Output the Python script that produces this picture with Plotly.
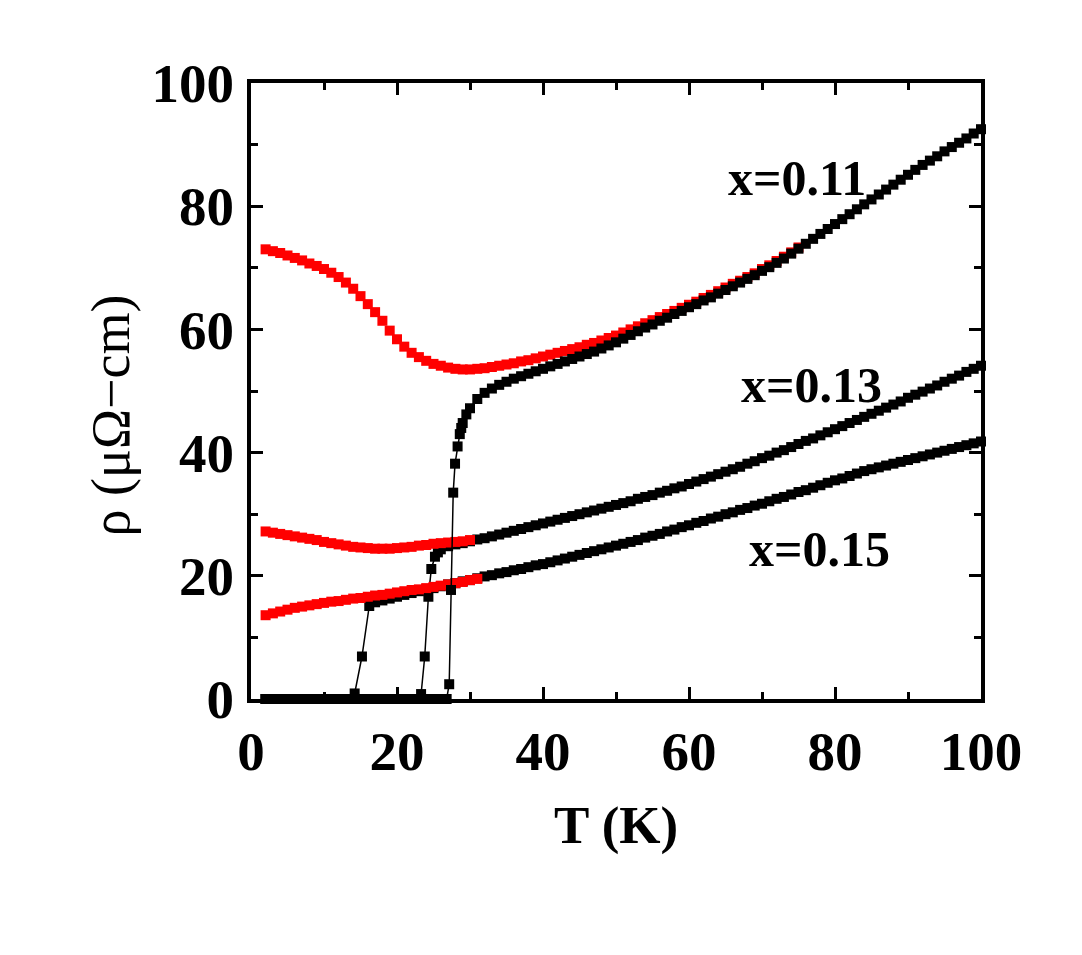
import plotly.graph_objects as go

# ---------------- data ----------------
# x = 0.11, zero field (black)
T_011_black = [2, 3, 4, 5, 6, 7, 8, 9, 10, 11, 12, 13, 14, 15, 16, 17, 18, 19, 20, 21, 22, 23, 24, 25, 26, 26.8,
               27.15, 27.4, 27.7, 27.95, 28.3, 28.6, 28.8, 29, 29.5, 30, 31, 32, 33, 34, 35, 36, 37, 38, 39, 40,
               41, 42, 43, 44, 45, 46, 47, 48, 49, 50, 51, 52, 53, 54, 55, 56, 57, 58, 59, 60,
               61, 62, 63, 64, 65, 66, 67, 68, 69, 70, 71, 72, 73, 74, 75, 76, 77, 78, 79, 80,
               81, 82, 83, 84, 85, 86, 87, 88, 89, 90, 91, 92, 93, 94, 95, 96, 97, 98, 99, 100]
rho_011_black = [0, 0, 0, 0, 0, 0, 0, 0, 0, 0, 0, 0, 0, 0, 0, 0, 0, 0, 0, 0, 0, 0, 0, 0, 0, 0,
                 2.4, 17.7, 33.5, 38.2, 41.0, 43.0, 44.0, 44.8, 46.2, 47.2, 48.7, 49.7, 50.4, 51.0, 51.5, 52.0, 52.4, 52.8, 53.2, 53.6,
                 54.0, 54.4, 54.8, 55.2, 55.6, 56.0, 56.4, 56.9, 57.4, 57.9, 58.5, 59.1, 59.7, 60.3, 60.8, 61.4, 61.9, 62.5, 63.0, 63.6,
                 64.1, 64.7, 65.2, 65.8, 66.4, 67.0, 67.6, 68.2, 68.8, 69.5, 70.1, 70.8, 71.5, 72.3, 73.1, 73.9, 74.7, 75.5, 76.3, 77.1,
                 77.9, 78.7, 79.5, 80.3, 81.1, 81.9, 82.7, 83.5, 84.3, 85.1, 85.9, 86.7, 87.4, 88.1, 88.9, 89.6, 90.3, 91.0, 91.8, 92.5]

# x = 0.11, in field (red)
T_011_red = [2, 3, 4, 5, 6, 7, 8, 9, 10, 11, 12, 13, 14, 15, 16, 17, 18, 19, 20, 21, 22, 23, 24, 25, 26, 27, 28, 29, 30,
             31, 32, 33, 34, 35, 36, 37, 38, 39, 40, 41, 42, 43, 44, 45, 46, 47, 48, 49, 50,
             51, 52, 53, 54, 55, 56, 57, 58, 59, 60, 61, 62, 63, 64, 65, 66, 67, 68, 69, 70, 71, 72, 73, 74, 75]
rho_011_red = [73.0, 72.7, 72.4, 72.0, 71.6, 71.2, 70.7, 70.3, 69.8, 69.2, 68.5, 67.6, 66.6, 65.4, 64.1, 62.8, 61.4, 59.8, 58.4,
               57.2, 56.2, 55.5, 54.9, 54.4, 54.1, 53.8, 53.6, 53.5, 53.5,
               53.6, 53.7, 53.9, 54.1, 54.3, 54.5, 54.8, 55.0, 55.3, 55.6, 55.9, 56.2, 56.5, 56.8, 57.1, 57.5, 57.8, 58.2, 58.6, 59.0,
               59.5, 60.0, 60.5, 61.0, 61.5, 62.0, 62.5, 63.0, 63.5, 64.0, 64.5, 65.1, 65.6, 66.2, 66.8, 67.4, 67.9, 68.5, 69.1, 69.8,
               70.4, 71.1, 71.8, 72.5, 73.3]

# x = 0.13, zero field (black)
T_013_black = [2, 3, 4, 5, 6, 7, 8, 9, 10, 11, 12, 13, 14, 15, 16, 17, 18, 19, 20, 21, 22, 23,
               23.3, 23.8, 24.3, 24.7, 25.2, 25.6, 26, 27, 28, 29, 30, 31, 32, 33, 34, 35, 36, 37, 38, 39, 40,
               41, 42, 43, 44, 45, 46, 47, 48, 49, 50, 51, 52, 53, 54, 55, 56, 57, 58, 59, 60,
               61, 62, 63, 64, 65, 66, 67, 68, 69, 70, 71, 72, 73, 74, 75, 76, 77, 78, 79, 80,
               81, 82, 83, 84, 85, 86, 87, 88, 89, 90, 91, 92, 93, 94, 95, 96, 97, 98, 99, 100]
rho_013_black = [0, 0, 0, 0, 0, 0, 0, 0, 0, 0, 0, 0, 0, 0, 0, 0, 0, 0, 0, 0, 0, 0,
                 0.8, 6.9, 16.6, 21.1, 23.1, 23.8, 24.3, 24.8, 25.1, 25.3, 25.6, 25.9, 26.1, 26.4, 26.7, 27.0, 27.3, 27.6, 27.9, 28.2, 28.5,
                 28.8, 29.1, 29.4, 29.7, 30.0, 30.3, 30.6, 30.9, 31.2, 31.5, 31.8, 32.1, 32.5, 32.8, 33.1, 33.5, 33.8, 34.2, 34.5, 34.9,
                 35.3, 35.7, 36.1, 36.5, 36.9, 37.3, 37.7, 38.2, 38.6, 39.1, 39.5, 40.0, 40.4, 40.9, 41.4, 41.9, 42.3, 42.8, 43.3, 43.8,
                 44.3, 44.8, 45.3, 45.8, 46.3, 46.8, 47.3, 47.8, 48.3, 48.9, 49.4, 49.9, 50.4, 50.9, 51.5, 52.0, 52.5, 53.1, 53.6, 54.1]

# x = 0.13, in field (red)
T_013_red = [2, 3, 4, 5, 6, 7, 8, 9, 10, 11, 12, 13, 14, 15, 16, 17, 18, 19, 20, 21, 22, 23, 24, 25, 26, 27, 28, 29, 30]
rho_013_red = [27.2, 27.0, 26.8, 26.6, 26.4, 26.2, 26.0, 25.8, 25.5, 25.3, 25.1, 24.9, 24.7, 24.6, 24.5, 24.4, 24.4, 24.4,
               24.5, 24.6, 24.7, 24.9, 25.0, 25.2, 25.3, 25.4, 25.5, 25.6, 25.8]

# x = 0.15, zero field (black)
T_015_black = [2, 3, 4, 5, 6, 7, 8, 9, 10, 11, 12, 13, 13.9,
               14.2, 15.2, 16.2, 17, 18, 19, 20, 21, 22, 23, 24, 25, 26, 27, 28, 29, 30, 31, 32, 33, 34, 35, 36, 37, 38, 39, 40,
               41, 42, 43, 44, 45, 46, 47, 48, 49, 50, 51, 52, 53, 54, 55, 56, 57, 58, 59, 60,
               61, 62, 63, 64, 65, 66, 67, 68, 69, 70, 71, 72, 73, 74, 75, 76, 77, 78, 79, 80,
               81, 82, 83, 84, 85, 86, 87, 88, 89, 90, 91, 92, 93, 94, 95, 96, 97, 98, 99, 100]
rho_015_black = [0, 0, 0, 0, 0, 0, 0, 0, 0, 0, 0, 0, 0,
                 0.9, 6.9, 15.1, 15.7, 16.0, 16.3, 16.6, 16.9, 17.2, 17.5, 17.8, 18.0, 18.3, 18.6, 18.8, 19.1, 19.3, 19.6, 19.9, 20.1,
                 20.4, 20.6, 20.9, 21.1, 21.4, 21.7, 21.9,
                 22.2, 22.5, 22.8, 23.1, 23.4, 23.7, 24.0, 24.3, 24.6, 24.9, 25.2, 25.5, 25.8, 26.2, 26.5, 26.8, 27.2, 27.5, 27.9, 28.2,
                 28.6, 28.9, 29.3, 29.6, 30.0, 30.3, 30.7, 31.0, 31.4, 31.7, 32.1, 32.5, 32.8, 33.2, 33.6, 33.9, 34.3, 34.7, 35.1, 35.5,
                 35.8, 36.2, 36.6, 37.0, 37.3, 37.6, 37.9, 38.2, 38.5, 38.8, 39.1, 39.4, 39.7, 40.0, 40.3, 40.6, 40.9, 41.2, 41.5, 41.8]

# x = 0.15, in field (red)
T_015_red = [2, 3, 4, 5, 6, 7, 8, 9, 10, 11, 12, 13, 14, 15, 16, 17, 18, 19, 20, 21, 22, 23, 24, 25, 26, 27, 28, 29, 30, 31]
rho_015_red = [13.6, 13.9, 14.2, 14.5, 14.8, 15.0, 15.2, 15.4, 15.6, 15.8, 15.9, 16.1, 16.3, 16.4, 16.6, 16.8, 16.9, 17.1,
               17.3, 17.5, 17.7, 17.8, 18.0, 18.2, 18.4, 18.6, 18.8, 19.0, 19.3, 19.5]

labels = ["x=0.11", "x=0.13", "x=0.15"]
label_T = [74.8, 76.8, 77.9]
label_rho = [84.6, 50.9, 24.3]

x_ticks = [0, 20, 40, 60, 80, 100]
y_ticks = [0, 20, 40, 60, 80, 100]

# ---------------- figure ----------------
SERIF = "Liberation Serif"
BLACK = "#000000"
RED = "#ff0000"
MSIZE = 10


def black_trace(T, rho):
    return go.Scatter(x=T, y=rho, mode="lines+markers",
                      line=dict(color=BLACK, width=1.5),
                      marker=dict(symbol="square", size=MSIZE, color=BLACK, line=dict(width=0)),
                      cliponaxis=False, showlegend=False, hoverinfo="skip")


def red_trace(T, rho):
    return go.Scatter(x=T, y=rho, mode="markers",
                      marker=dict(symbol="square", size=MSIZE, color=RED, line=dict(width=0)),
                      cliponaxis=False, showlegend=False, hoverinfo="skip")


fig = go.Figure()
fig.add_trace(black_trace(T_013_black, rho_013_black))
fig.add_trace(black_trace(T_015_black, rho_015_black))
fig.add_trace(red_trace(T_013_red, rho_013_red))
fig.add_trace(red_trace(T_015_red, rho_015_red))
fig.add_trace(red_trace(T_011_red, rho_011_red))
fig.add_trace(black_trace(T_011_black, rho_011_black))

for txt, tx, ty in zip(labels, label_T, label_rho):
    fig.add_annotation(x=tx, y=ty, xref="x", yref="y", text=txt, showarrow=False,
                       xanchor="center", yanchor="middle",
                       font=dict(family=SERIF, size=50, color=BLACK, weight="bold"))

# axis titles
fig.add_annotation(x=0.5, y=-0.205, xref="paper", yref="paper", text="T (K)", showarrow=False,
                   xanchor="center", yanchor="middle",
                   font=dict(family=SERIF, size=53, color=BLACK, weight="bold"))
fig.add_annotation(x=-0.192, y=0.46, xref="paper", yref="paper", text="ρ (μΩ−cm)", showarrow=False,
                   xanchor="center", yanchor="middle",
                   textangle=-90, font=dict(family=SERIF, size=54, color=BLACK))

axis_common = dict(
    showline=True, linewidth=4, linecolor=BLACK, mirror="ticks",
    ticks="inside", ticklen=12, tickwidth=3, tickcolor=BLACK,
    showgrid=False, zeroline=False,
    tickfont=dict(family=SERIF, size=55, color=BLACK, weight="bold"),
    minor=dict(ticks="inside", ticklen=7, tickwidth=3, tickcolor=BLACK, dtick=10, showgrid=False),
)

fig.update_xaxes(range=[0, 100], tickvals=x_ticks, ticktext=[str(v) for v in x_ticks],
                 ticklabelstandoff=1, **axis_common)
fig.update_yaxes(range=[0, 100], tickvals=y_ticks, ticktext=[str(v) for v in y_ticks],
                 ticklabelstandoff=2, **axis_common)

fig.update_layout(
    width=1082, height=955,
    margin=dict(l=251, r=101, t=83, b=256),
    paper_bgcolor="white", plot_bgcolor="white",
    showlegend=False,
)

fig.write_html("out.html")
